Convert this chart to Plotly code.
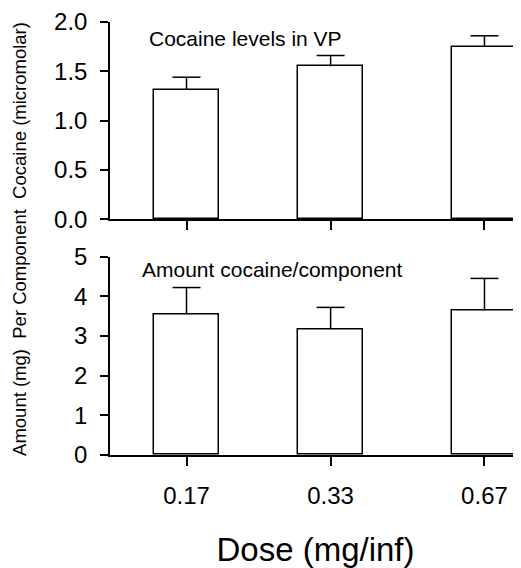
import numpy as np
import plotly.graph_objects as go

doses = [0.17, 0.33, 0.67]
dose_labels = ["0.17", "0.33", "0.67"]
levels = [1.31, 1.55, 1.75]
levels_err = [0.13, 0.11, 0.11]
amount = [3.55, 3.17, 3.64]
amount_err = [0.67, 0.55, 0.81]

xlog = np.log10(doses)
FONT = "Liberation Sans, Arial, Helvetica, sans-serif"
BAR_W = 0.13

fig = go.Figure()
for vals, errs, xa, ya in [(levels, levels_err, "x", "y"), (amount, amount_err, "x2", "y2")]:
    fig.add_trace(go.Bar(
        x=xlog, y=vals, width=BAR_W, xaxis=xa, yaxis=ya,
        marker=dict(color="white", line=dict(color="black", width=1.5)),
        error_y=dict(type="data", array=errs, arrayminus=[0] * len(errs), symmetric=False,
                     color="black", thickness=1.5, width=0),
        showlegend=False, hoverinfo="skip"))
    tops = np.array(vals) + np.array(errs)
    fig.add_trace(go.Scatter(
        x=xlog, y=tops, mode="markers", xaxis=xa, yaxis=ya,
        marker=dict(symbol="line-ew-open", size=20, color="black",
                    line=dict(color="black", width=1.5)),
        showlegend=False, hoverinfo="skip", cliponaxis=False))

xcommon = dict(range=[-0.9225, -0.1009], tickvals=list(xlog), showline=True, linecolor="black",
               linewidth=1.5, ticks="outside", ticklen=9, tickwidth=1.5, tickcolor="black",
               showgrid=False, zeroline=False)
ycommon = dict(showline=True, linecolor="black", linewidth=1.5, ticks="outside", ticklen=8,
               tickwidth=1.5, tickcolor="black", showgrid=False, zeroline=False,
               ticklabelstandoff=8,
               tickfont=dict(size=24, color="black", family=FONT))

fig.update_layout(
    width=513, height=560,
    margin=dict(l=102, r=0, t=12, b=113),
    plot_bgcolor="white", paper_bgcolor="white",
    font=dict(family=FONT, color="black"),
    bargap=0,
    xaxis=dict(**xcommon, anchor="y", showticklabels=False),
    xaxis2=dict(**xcommon, anchor="y2", ticktext=dose_labels, matches="x",
                ticklabelstandoff=9,
                tickfont=dict(size=24, color="black", family=FONT),
                title=dict(text="Dose (mg/inf)", font=dict(size=33, color="black", family=FONT),
                           standoff=36)),
    yaxis=dict(**ycommon, domain=[0.5448, 1.0], range=[0, 2.0], tickvals=[0, 0.5, 1.0, 1.5, 2.0],
               ticktext=["0.0", "0.5", "1.0", "1.5", "2.0"], anchor="x"),
    yaxis2=dict(**ycommon, domain=[0.0, 0.4582], range=[0, 5], tickvals=[0, 1, 2, 3, 4, 5],
                anchor="x2"),
    annotations=[
        dict(text="Cocaine levels in VP", xref="paper", yref="paper", x=0.09, y=0.963,
             xanchor="left", yanchor="middle", showarrow=False,
             font=dict(size=21, color="black", family=FONT)),
        dict(text="Amount cocaine/component", xref="paper", yref="paper", x=0.073, y=0.4276,
             xanchor="left", yanchor="middle", showarrow=False,
             font=dict(size=21, color="black", family=FONT)),
        dict(text="Amount (mg)\u00a0 Per Component\u00a0 Cocaine (micromolar)", xref="paper",
             yref="paper", x=0, xshift=-90, y=0.499, xanchor="center", yanchor="middle",
             textangle=-90, showarrow=False, font=dict(size=18.5, color="black", family=FONT)),
    ],
)

fig.write_html("out.html")
